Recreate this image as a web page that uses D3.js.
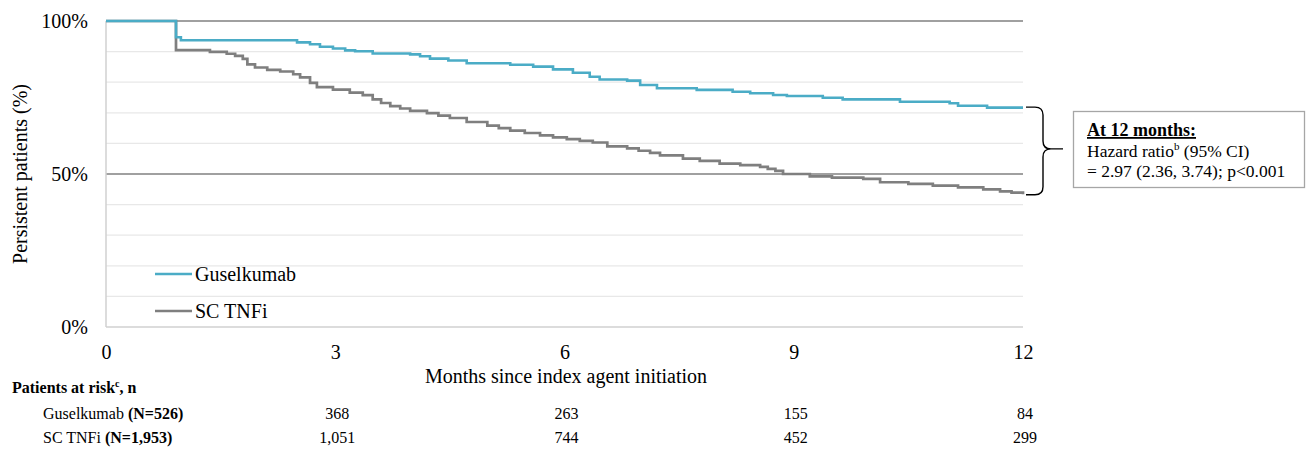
<!DOCTYPE html>
<html><head><meta charset="utf-8">
<script src="https://cdn.jsdelivr.net/npm/d3@7"></script>
<style>body{margin:0;background:#fff}svg{display:block}text{font-family:"Liberation Serif","Times New Roman",serif;fill:#000}</style>
</head><body>
<svg id="c" width="1306" height="449"></svg>
<script>
// Data
const guselMonths = [0,0.916,0.98,2.50,2.67,2.80,2.97,3.13,3.26,3.49,3.98,4.11,4.24,4.48,4.72,5.29,5.59,5.85,6.11,6.33,6.46,6.82,6.99,7.21,7.73,8.20,8.43,8.73,8.91,9.38,9.64,10.39,11.04,11.15,11.53,12];
const guselPct    = [100,94.7,93.7,93.0,92.4,91.6,91.0,90.4,90.1,89.4,89.1,88.5,87.7,87.1,86.2,85.7,85.1,84.2,83.1,81.8,80.9,80.5,79.1,78.0,77.5,76.9,76.4,75.8,75.5,74.9,74.4,73.6,73.1,72.3,71.7,71.7];
const tnfiMonths = [0,0.916,1.36,1.58,1.69,1.79,1.85,1.95,2.11,2.28,2.45,2.54,2.67,2.76,2.97,3.19,3.36,3.49,3.60,3.72,3.85,3.98,4.20,4.35,4.50,4.72,4.99,5.14,5.29,5.48,5.68,5.85,6.03,6.20,6.37,6.56,6.82,6.97,7.12,7.25,7.55,7.77,8.03,8.30,8.56,8.66,8.76,8.86,9.21,9.50,9.91,10.13,10.50,10.82,11.15,11.48,11.70,11.85,12];
const tnfiPct    = [100,90.5,89.9,89.3,88.6,87.6,85.8,84.8,84.0,83.5,82.6,81.6,79.8,78.4,77.6,76.6,75.8,74.4,73.2,72.2,71.4,70.6,69.9,69.1,68.3,67.0,65.8,65.0,64.2,63.4,62.6,62.0,61.4,60.8,60.3,59.0,58.4,57.6,56.9,56.1,55.0,54.3,53.4,52.9,52.3,51.7,51.0,50.0,49.2,48.8,48.4,47.3,46.8,46.2,45.6,45.0,44.3,43.9,43.4];
const xTicks = [0,3,6,9,12];
const yTicks = [0,50,100];
const gridTicks = [10,20,30,40,60,70,80,90];
const seriesNames = ["Guselkumab","SC TNFi"];
const seriesColors = ["#4bacc6","#7f7f7f"];
const riskMonths = [3,6,9,12];
const riskGusel = ["368","263","155","84"];
const riskTnfi = ["1,051","744","452","299"];

const svg = d3.select("#c");
const x = d3.scaleLinear().domain([0,12]).range([106,1023]);
const y = d3.scaleLinear().domain([0,100]).range([327,21]);

// minor gridlines
svg.append("g").selectAll("line").data(gridTicks).join("line")
  .attr("x1",x(0)).attr("x2",x(12)).attr("y1",d=>y(d)).attr("y2",d=>y(d))
  .attr("stroke","#e8e8e8").attr("stroke-width",1.2);
// major lines 50 and 100
svg.append("g").selectAll("line").data([50,100]).join("line")
  .attr("x1",x(0)).attr("x2",x(12)).attr("y1",d=>y(d)).attr("y2",d=>y(d))
  .attr("stroke","#a0a0a0").attr("stroke-width",2);
// axes lines
svg.append("line").attr("x1",x(0)).attr("x2",x(0)).attr("y1",y(100)).attr("y2",y(0)).attr("stroke","#d0d0d0").attr("stroke-width",1.5);
svg.append("line").attr("x1",x(0)).attr("x2",x(12)).attr("y1",y(0)).attr("y2",y(0)).attr("stroke","#d0d0d0").attr("stroke-width",1.5);

// y tick labels
const yAxis = d3.axisLeft(y).tickValues(yTicks).tickFormat(d=>d+"%").tickSize(0).tickPadding(18);
const gy = svg.append("g").attr("transform",`translate(${x(0)},0)`).call(yAxis);
gy.select(".domain").remove();
gy.selectAll("text").style("font-family","Liberation Serif, serif").style("font-size","20px").attr("fill","#000");

// x tick labels
const xAxis = d3.axisBottom(x).tickValues(xTicks).tickFormat(d3.format("d")).tickSize(0).tickPadding(18);
const gx = svg.append("g").attr("transform",`translate(0,${y(0)})`).call(xAxis);
gx.select(".domain").remove();
gx.selectAll("text").style("font-family","Liberation Serif, serif").style("font-size","20px").attr("fill","#000");

// axis titles
svg.append("text").attr("transform",`translate(27,${y(50)}) rotate(-90)`).attr("text-anchor","middle")
  .style("font-size","20px").text("Persistent patients (%)");
svg.append("text").attr("x",566).attr("y",383).attr("text-anchor","middle")
  .style("font-size","20px").text("Months since index agent initiation");

// curves
const line = d3.line().curve(d3.curveStepAfter).x(d=>x(d[0])).y(d=>y(d[1]));
const tnfiData = tnfiMonths.map((m,i)=>[m,tnfiPct[i]]);
const guselData = guselMonths.map((m,i)=>[m,guselPct[i]]);
svg.append("path").datum(tnfiData).attr("d",line).attr("fill","none").attr("stroke",seriesColors[1]).attr("stroke-width",2.7);
svg.append("path").datum(guselData).attr("d",line).attr("fill","none").attr("stroke",seriesColors[0]).attr("stroke-width",2.6);

// legend
const leg = svg.append("g");
[274,311].forEach((ly,i)=>{
  leg.append("line").attr("x1",155).attr("x2",192).attr("y1",ly).attr("y2",ly).attr("stroke",seriesColors[i]).attr("stroke-width",2.6);
  leg.append("text").attr("x",195).attr("y",ly+7).style("font-size","20px").text(seriesNames[i]);
});

// brace
const bx0 = 1026, bv = 1043, bp = 1063;
const bTop = y(guselPct[guselPct.length-1]) - 0.5, bBot = y(tnfiPct[tnfiPct.length-1]) + 0.5, bMid = (bTop+bBot)/2 - 2;
svg.append("path").attr("d",
  `M${bx0},${bTop} L${bv-8},${bTop} Q${bv},${bTop} ${bv},${bTop+8} L${bv},${bMid-8} Q${bv},${bMid} ${bp-12},${bMid} L${bp},${bMid} M${bp-12},${bMid} Q${bv},${bMid} ${bv},${bMid+8} L${bv},${bBot-8} Q${bv},${bBot} ${bv-8},${bBot} L${bx0},${bBot}`)
  .attr("fill","none").attr("stroke","#000").attr("stroke-width",1.4);

// annotation box
svg.append("rect").attr("x",1073.5).attr("y",111.5).attr("width",231).attr("height",76)
  .attr("fill","#fff").attr("stroke","#a6a6a6").attr("stroke-width",1.3);
svg.append("text").attr("x",1087).attr("y",136).style("font-size","18px").style("font-weight","bold")
  .style("text-decoration","underline").text("At 12 months:");
const t2 = svg.append("text").attr("x",1087).attr("y",157).style("font-size","17.5px");
t2.append("tspan").text("Hazard ratio");
t2.append("tspan").attr("dy",-7).style("font-size","11px").text("b");
t2.append("tspan").attr("dy",7).text(" (95% CI)");
svg.append("text").attr("x",1087).attr("y",177).style("font-size","17.5px").text("= 2.97 (2.36, 3.74); p<0.001");

// risk table
const rt = svg.append("text").attr("x",12).attr("y",393).style("font-size","16px").style("font-weight","bold");
rt.append("tspan").text("Patients at risk");
rt.append("tspan").attr("dy",-6).style("font-size","10px").text("c");
rt.append("tspan").attr("dy",6).text(", n");
const r1 = svg.append("text").attr("x",43).attr("y",419).style("font-size","16px");
r1.append("tspan").text("Guselkumab ");
r1.append("tspan").style("font-weight","bold").text("(N=526)");
const r2 = svg.append("text").attr("x",43).attr("y",443).style("font-size","16px");
r2.append("tspan").text("SC TNFi ");
r2.append("tspan").style("font-weight","bold").text("(N=1,953)");
svg.append("g").selectAll("text").data(riskMonths).join("text")
  .attr("x",d=>x(d)+2).attr("y",419).attr("text-anchor","middle").style("font-size","16px").text((d,i)=>riskGusel[i]);
svg.append("g").selectAll("text").data(riskMonths).join("text")
  .attr("x",d=>x(d)+2).attr("y",443).attr("text-anchor","middle").style("font-size","16px").text((d,i)=>riskTnfi[i]);
</script>
</body></html>
